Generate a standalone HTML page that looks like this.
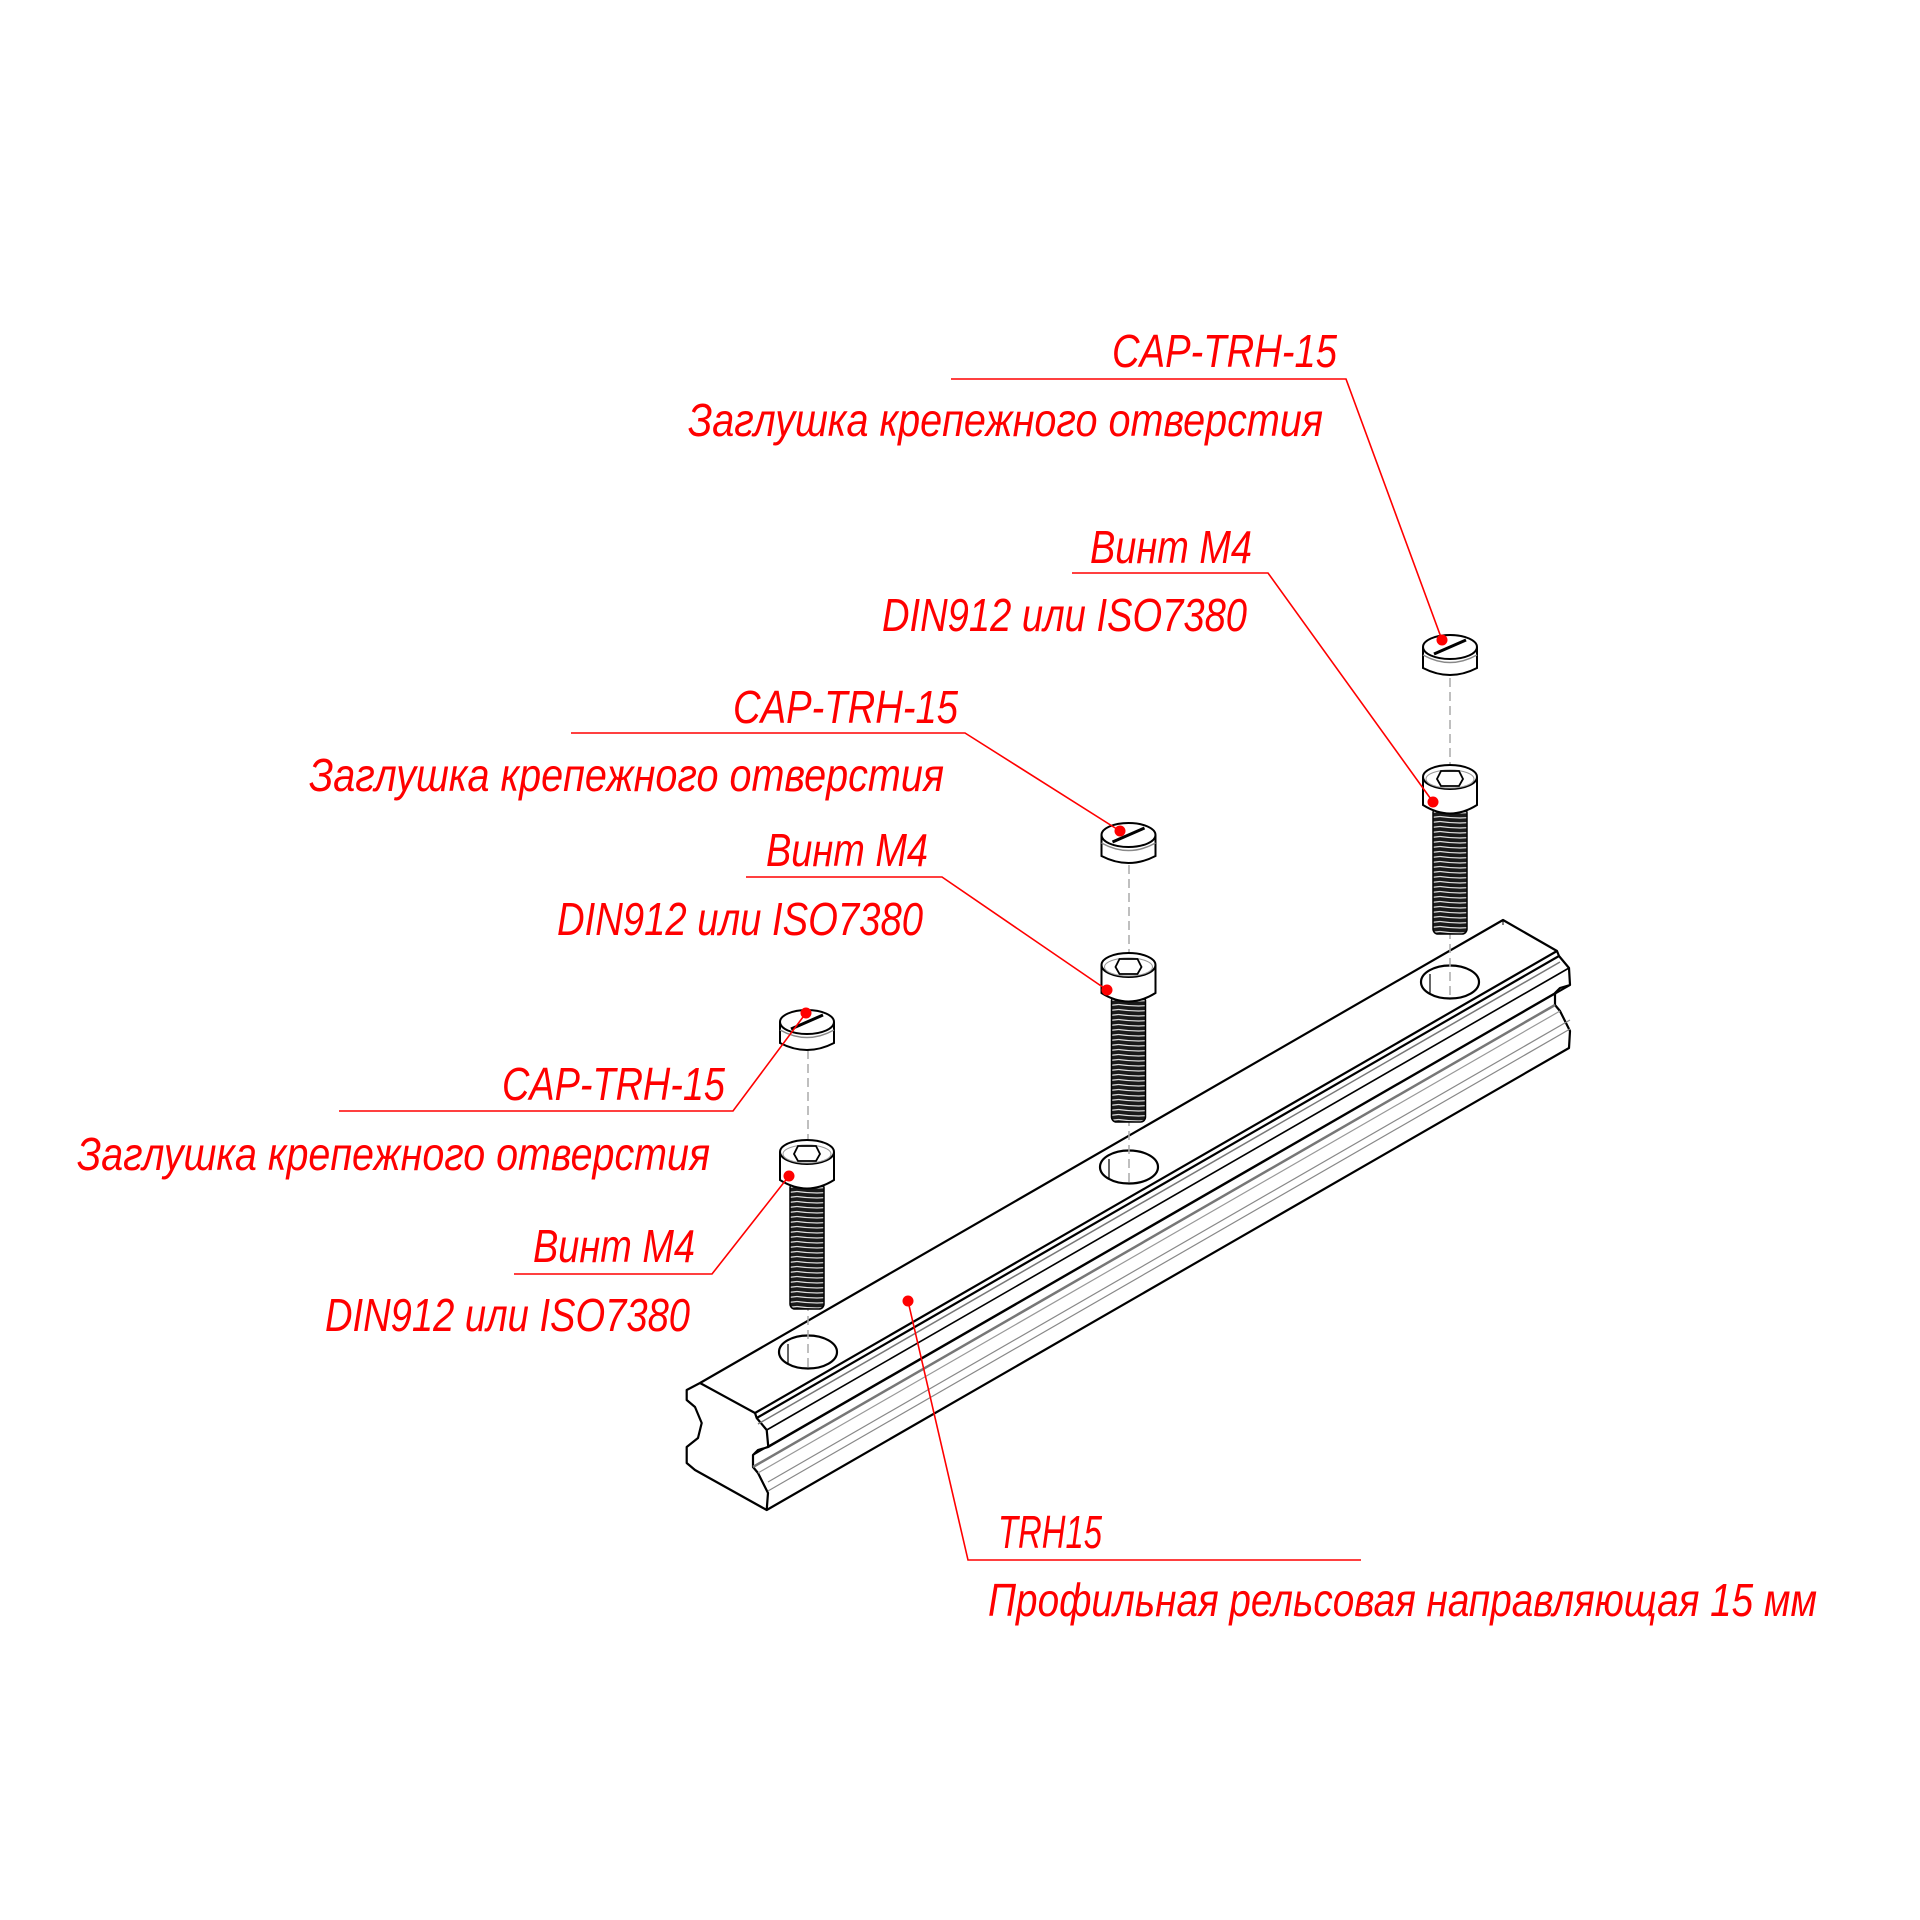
<!DOCTYPE html>
<html><head><meta charset="utf-8"><style>
html,body{margin:0;padding:0;background:#fff}
svg{display:block}
text{font-family:"Liberation Sans","DejaVu Sans",sans-serif;font-style:italic;fill:#ff0000;font-size:46px}
</style></head><body>
<svg width="1920" height="1920" viewBox="0 0 1920 1920" xmlns="http://www.w3.org/2000/svg">
<defs>
<pattern id="thr" width="40" height="5" patternUnits="userSpaceOnUse">
<rect width="40" height="5" fill="#1a1a1a"/>
<path d="M0 1.5 Q20 4.5 40 1.5" stroke="#ddd" stroke-width="1.2" fill="none"/>
</pattern>
</defs>
<!-- RAIL -->
<g fill="none" stroke="#000" stroke-width="2.2" stroke-linejoin="round">
<path fill="#fff" d="M700,1383 L1503,920 L1557,951 L1559,956 L1569,968 L1570,985 L1560,988 L1555,993 L1555,1005 L1560,1011 L1570,1031 L1569,1048 L766.7,1510 L695,1470 L686.7,1463 L686.7,1447 L698,1438 L701.7,1423 L695,1407 L686.7,1400 L686.7,1390 Z"/>
<path d="M755,1413 L756.7,1418 L766.7,1430 L768.3,1447 L758,1450 L753,1455 L753,1467 L758,1473 L768,1493 L766.7,1510"/>
<path d="M700,1383 L755,1413 L1557,951"/>
<path d="M756.7,1418 L1559,956"/>
<path d="M766.7,1430 L1569,968" stroke-width="1.6"/>
<path d="M768.3,1447 L1570,985" stroke-width="2"/>
<path d="M753,1455 L1555,993" stroke-width="1.6"/>
<path d="M753,1467 L1555,1005" stroke="#777" stroke-width="2.5"/>
<path d="M758,1473 L1560,1011" stroke="#999" stroke-width="1.2"/>
<path d="M768,1482 L1570,1020" stroke="#888" stroke-width="1.2"/>
<path d="M768,1491 L1570,1029" stroke="#888" stroke-width="1.2"/>
<path d="M758,1424 L1560,962" stroke="#777" stroke-width="1.5"/>
<path d="M1555,993 L1555,995"/>
<path d="M1503,920 L1503,925" stroke-width="1"/>
<!-- holes -->
<ellipse cx="808" cy="1352" rx="29" ry="16.5" fill="#fff"/>
<ellipse cx="1129" cy="1167" rx="29" ry="16.5" fill="#fff"/>
<ellipse cx="1450" cy="982" rx="29" ry="16.5" fill="#fff"/>
<path d="M788,1344 L788,1364 M1109,1159 L1109,1179 M1430,974 L1430,994" stroke-width="1.2"/>
</g>
<!-- axis dashed -->
<g stroke="#aaa" stroke-width="1.5" stroke-dasharray="9,5" fill="none">
<path d="M808,1050 L808,1368"/>
<path d="M1129,865 L1129,1183"/>
<path d="M1450,678 L1450,998"/>
</g>
<!-- screws & caps -->
<g id="s3">
<rect x="1433" y="808" width="34" height="126" rx="5" fill="url(#thr)" stroke="#000" stroke-width="1.5"/>
<path d="M1423,777 L1423,805 Q1450,822 1477,805 L1477,777" fill="#fff" stroke="#000" stroke-width="2"/>
<ellipse cx="1450" cy="777" rx="27" ry="12" fill="#fff" stroke="#000" stroke-width="2"/>
<ellipse cx="1450" cy="779" rx="24" ry="9" fill="none" stroke="#999" stroke-width="1"/>
<path d="M1441,771 L1459,771 L1463,779 L1459,786 L1441,786 L1437,779 Z" fill="#fff" stroke="#000" stroke-width="1.8"/>
<path d="M1423,647 L1423,668 Q1450,682 1477,668 L1477,647" fill="#fff" stroke="#000" stroke-width="2"/>
<path d="M1423,655 Q1450,670 1477,655" fill="none" stroke="#888" stroke-width="1.5"/>
<ellipse cx="1450" cy="647" rx="27" ry="12" fill="#fff" stroke="#000" stroke-width="2"/>
<path d="M1434,654 L1466,640" stroke="#000" stroke-width="3"/>
</g>
<use href="#s3" transform="translate(-321.5,188)"/>
<use href="#s3" transform="translate(-643,375)"/>
<!-- leaders -->
<g stroke="#ff0000" stroke-width="1.6" fill="none">
<path d="M951,379 L1346,379 L1442,640"/>
<path d="M1072,573 L1268,573 L1433,802"/>
<path d="M571,733 L965,733 L1120,831"/>
<path d="M746,877 L942,877 L1107,990"/>
<path d="M339,1111 L733,1111 L806,1013"/>
<path d="M514,1274 L712,1274 L789,1176"/>
<path d="M908,1301 L968,1560 L1361,1560"/>
</g>
<g fill="#ff0000">
<circle cx="1442" cy="640" r="5.5"/><circle cx="1433" cy="802" r="5.5"/>
<circle cx="1120" cy="831" r="5.5"/><circle cx="1107" cy="990" r="5.5"/>
<circle cx="806" cy="1013" r="5.5"/><circle cx="789" cy="1176" r="5.5"/>
<circle cx="908" cy="1301" r="5.5"/>
</g>
<!-- texts -->
<text x="1112" y="367" textLength="225" lengthAdjust="spacingAndGlyphs">CAP-TRH-15</text>
<text x="688" y="436" textLength="635" lengthAdjust="spacingAndGlyphs">Заглушка крепежного отверстия</text>
<text x="1090" y="563" textLength="162" lengthAdjust="spacingAndGlyphs">Винт M4</text>
<text x="882" y="631" textLength="365" lengthAdjust="spacingAndGlyphs">DIN912 или ISO7380</text>
<text x="733" y="723" textLength="225" lengthAdjust="spacingAndGlyphs">CAP-TRH-15</text>
<text x="309" y="791" textLength="635" lengthAdjust="spacingAndGlyphs">Заглушка крепежного отверстия</text>
<text x="766" y="866" textLength="162" lengthAdjust="spacingAndGlyphs">Винт M4</text>
<text x="557" y="935" textLength="366" lengthAdjust="spacingAndGlyphs">DIN912 или ISO7380</text>
<text x="502" y="1100" textLength="223" lengthAdjust="spacingAndGlyphs">CAP-TRH-15</text>
<text x="77" y="1170" textLength="633" lengthAdjust="spacingAndGlyphs">Заглушка крепежного отверстия</text>
<text x="533" y="1262" textLength="162" lengthAdjust="spacingAndGlyphs">Винт M4</text>
<text x="325" y="1331" textLength="365" lengthAdjust="spacingAndGlyphs">DIN912 или ISO7380</text>
<text x="998" y="1548" textLength="104" lengthAdjust="spacingAndGlyphs">TRH15</text>
<text x="988" y="1616" textLength="829" lengthAdjust="spacingAndGlyphs">Профильная рельсовая направляющая 15 мм</text>
</svg>
</body></html>
